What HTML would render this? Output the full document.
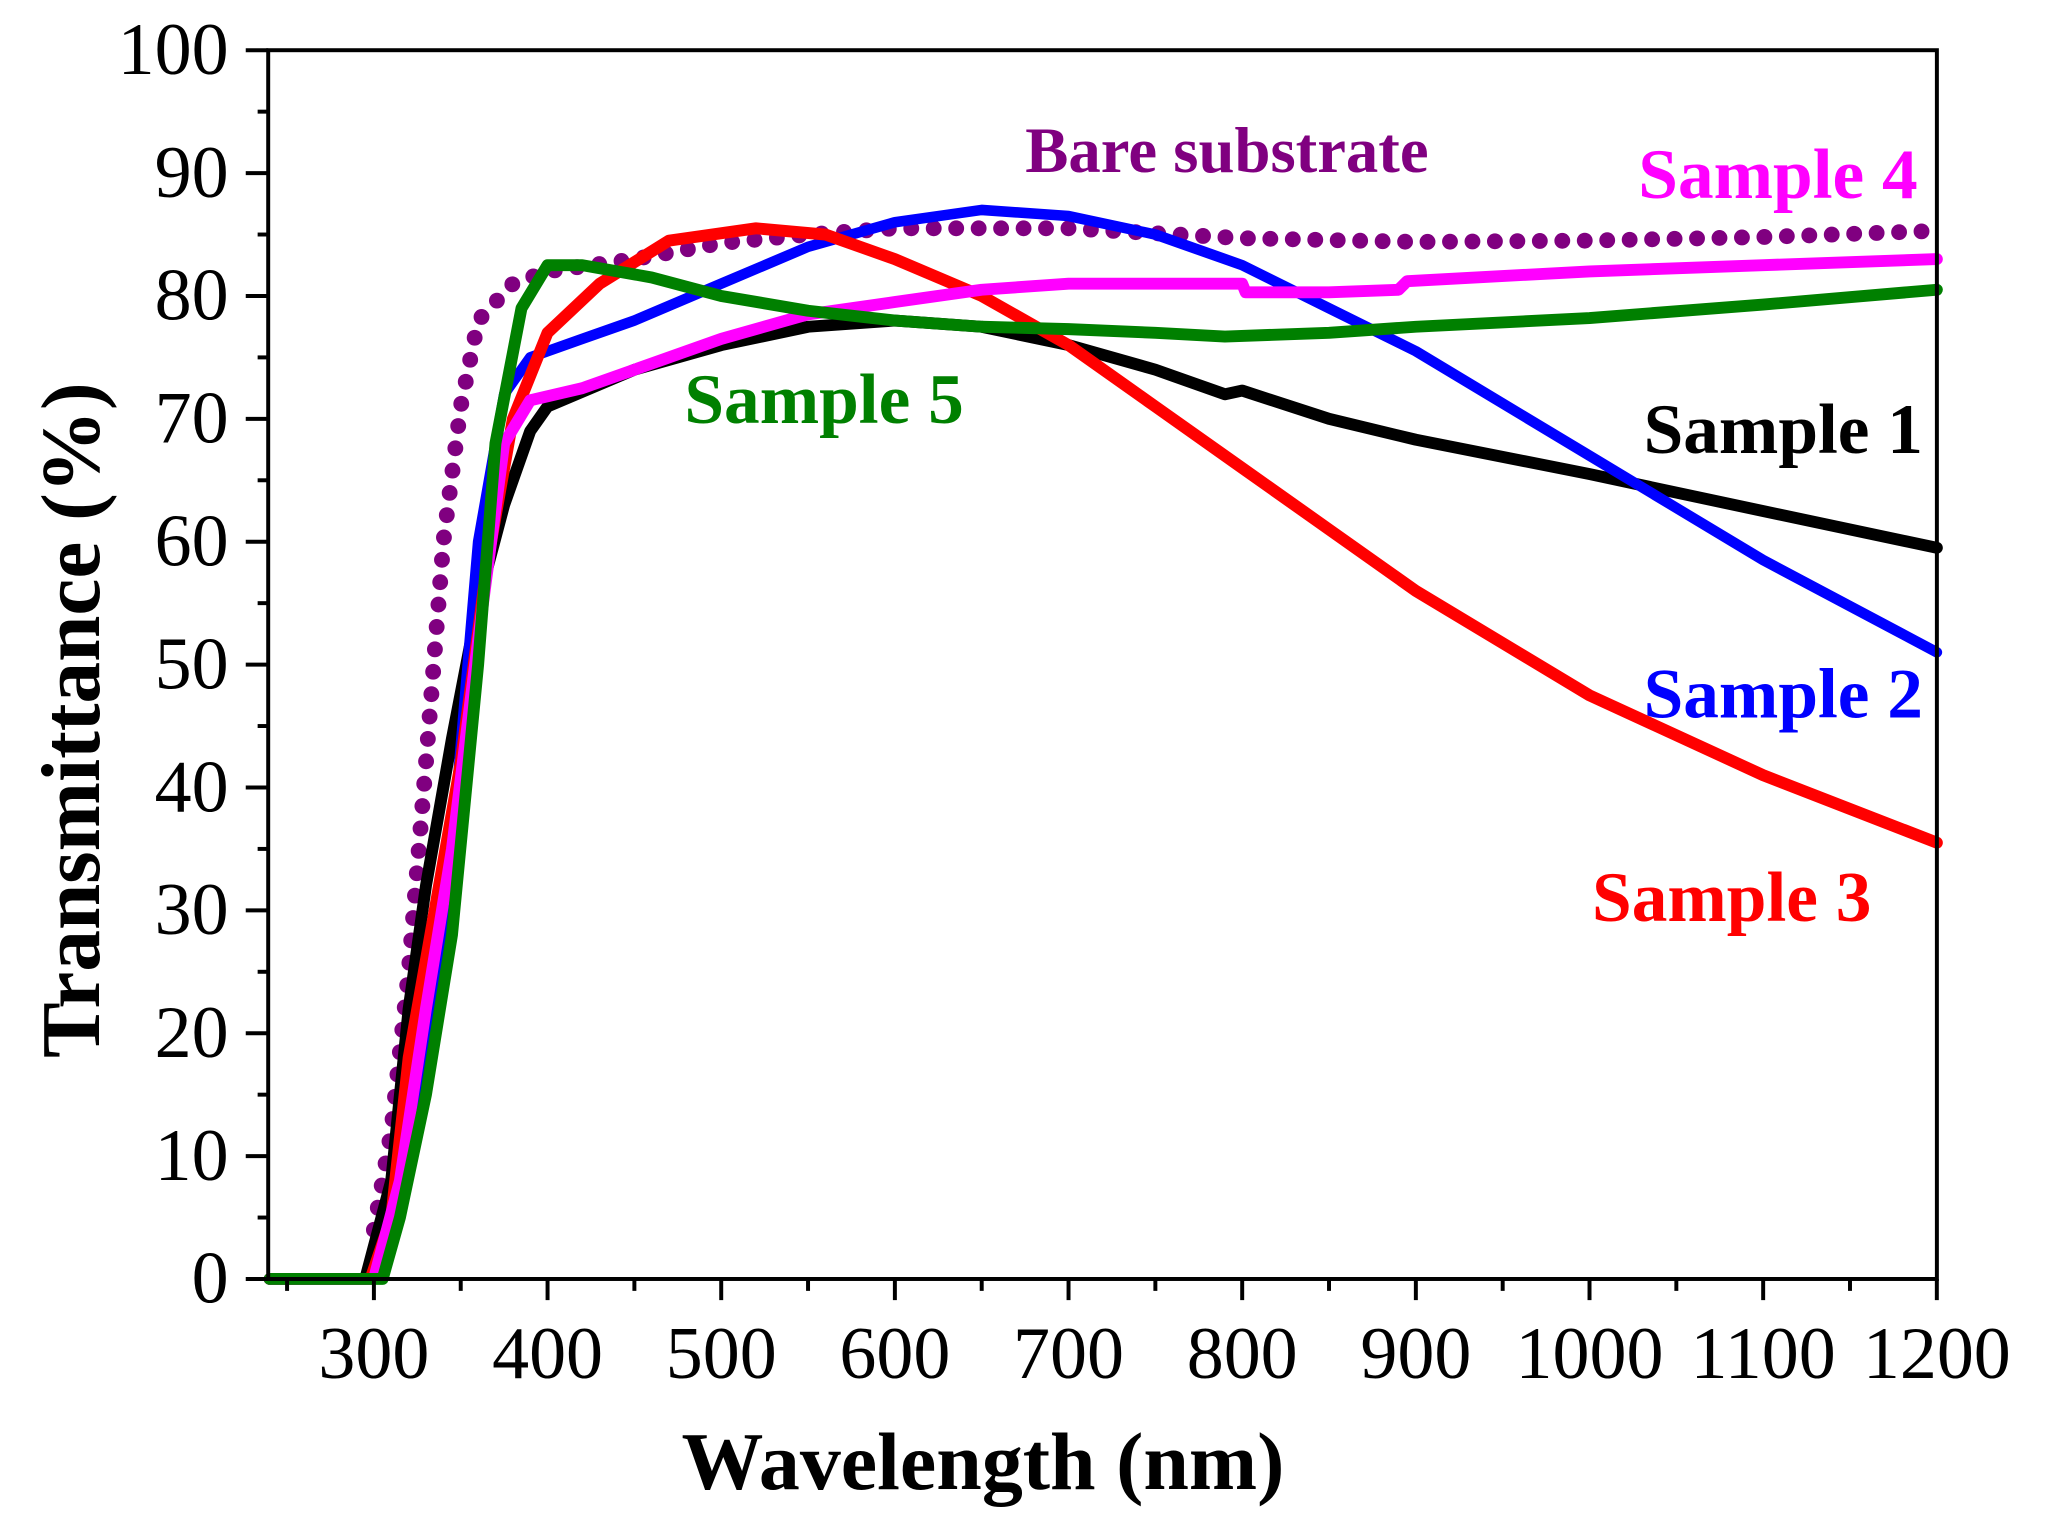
<!DOCTYPE html>
<html><head><meta charset="utf-8"><style>
html,body{margin:0;padding:0;background:#fff;}
svg{display:block;}
</style></head><body>
<svg id="s" width="2069" height="1525" viewBox="0 0 1566 1154.2" preserveAspectRatio="none" xmlns="http://www.w3.org/2000/svg" font-family="'Liberation Serif', serif">
<rect width="1566" height="1154.2" fill="#fff"/>
<g id="curves" fill="none" stroke-linejoin="round" stroke-linecap="round"></g>
<rect x="203" y="38" width="1263" height="930" fill="none" stroke="#000" stroke-width="3"/>
<g id="ticks" stroke="#000" stroke-width="3"></g>
<g id="labels" font-size="56" fill="#000"></g>
<text x="744" y="1127" font-size="62" font-weight="bold" text-anchor="middle">Wavelength (nm)</text>
<text transform="translate(75,545) rotate(-90)" font-size="63" font-weight="bold" text-anchor="middle">Transmittance (%)</text>
<g font-size="54" font-weight="bold">
<text x="776" y="130" fill="#800080" font-size="49">Bare substrate</text>
<text x="1240" y="150" fill="#ff00ff">Sample 4</text>
<text x="518" y="320" fill="#008000">Sample 5</text>
<text x="1244" y="343" fill="#000">Sample 1</text>
<text x="1244" y="543" fill="#0000ff">Sample 2</text>
<text x="1205" y="697" fill="#ff0000">Sample 3</text>
</g>
</svg>
<script>
const NS="http://www.w3.org/2000/svg";
const X=n=>283+(n-300)*1.3144, Y=t=>968-t*9.3;
function path(pts,color,w,dash){
  const p=document.createElementNS(NS,"path");
  p.setAttribute("d","M"+pts.map(q=>X(q[0]).toFixed(1)+","+Y(q[1]).toFixed(1)).join(" L"));
  p.setAttribute("stroke",color);p.setAttribute("stroke-width",w);
  if(dash)p.setAttribute("stroke-dasharray",dash);
  document.getElementById("curves").appendChild(p);
}
path([[300,4],[310,12],[320,25],[330,42],[340,60],[350,71],[360,78],[380,81],[400,82],[450,83],[500,84.3],[550,85],[600,85.5],[700,85.5],[800,84.7],[900,84.4],[1000,84.5],[1100,84.8],[1200,85.3]],"#800080",12,"0 17");
path([[240,0],[295,0],[310,8],[320,22],[330,32],[345,44],[360,55],[375,63],[390,69],[400,71],[450,74],[500,76],[550,77.5],[600,78],[650,77.5],[700,76],[750,74],[790,72],[800,72.3],[850,70],[900,68.3],[1000,65.5],[1100,62.5],[1200,59.5]],"#000",9);
path([[240,0],[300,0],[315,5],[330,18],[345,35],[360,60],[375,72],[390,75],[420,76.5],[450,78],[500,81],[550,84],[600,86],[650,87],[700,86.5],[750,85],[800,82.5],[850,79],[900,75.5],[1000,67],[1100,58.5],[1200,51]],"#0000ff",8);
path([[240,0],[298,0],[310,5],[320,18],[335,30],[350,42],[365,58],[380,70],[400,77],[430,81],[470,84.5],[520,85.5],[560,85],[600,83],[650,80],[700,76],[750,71],[800,66],[850,61],[900,56],[1000,47.5],[1100,41],[1200,35.5]],"#ff0000",9);
path([[240,0],[300,0],[315,8],[330,22],[345,35],[360,52],[375,68],[390,71.5],[420,72.5],[450,74],[500,76.5],[550,78.5],[600,79.5],[650,80.5],[700,81],[750,81],[800,81],[802,80.3],[850,80.3],[890,80.5],[895,81.2],[1000,82],[1100,82.5],[1200,83]],"#ff00ff",9);
path([[240,0],[305,0],[315,5],[330,15],[345,28],[360,50],[370,68],[385,79],[400,82.5],[420,82.5],[460,81.5],[500,80],[550,78.8],[600,78],[650,77.5],[700,77.3],[750,77],[790,76.7],[850,77],[900,77.5],[1000,78.2],[1100,79.3],[1200,80.5]],"#008000",9);
const tk=document.getElementById("ticks"),lb=document.getElementById("labels");
function line(x1,y1,x2,y2){const l=document.createElementNS(NS,"line");l.setAttribute("x1",x1);l.setAttribute("y1",y1);l.setAttribute("x2",x2);l.setAttribute("y2",y2);tk.appendChild(l);}
function txt(x,y,s,a){const t=document.createElementNS(NS,"text");t.setAttribute("x",x);t.setAttribute("y",y);t.setAttribute("text-anchor",a);t.textContent=s;lb.appendChild(t);}
for(let n=250;n<=1200;n+=50){const x=X(n);const maj=n%100==0;line(x,968,x,maj?984:977);if(maj)txt(x,1043,n,"middle");}
for(let t=0;t<=100;t+=5){const y=Y(t);const maj=t%10==0;line(203,y,maj?186:195,y);if(maj)txt(173,y+18,t,"end");}
</script>
</body></html>
